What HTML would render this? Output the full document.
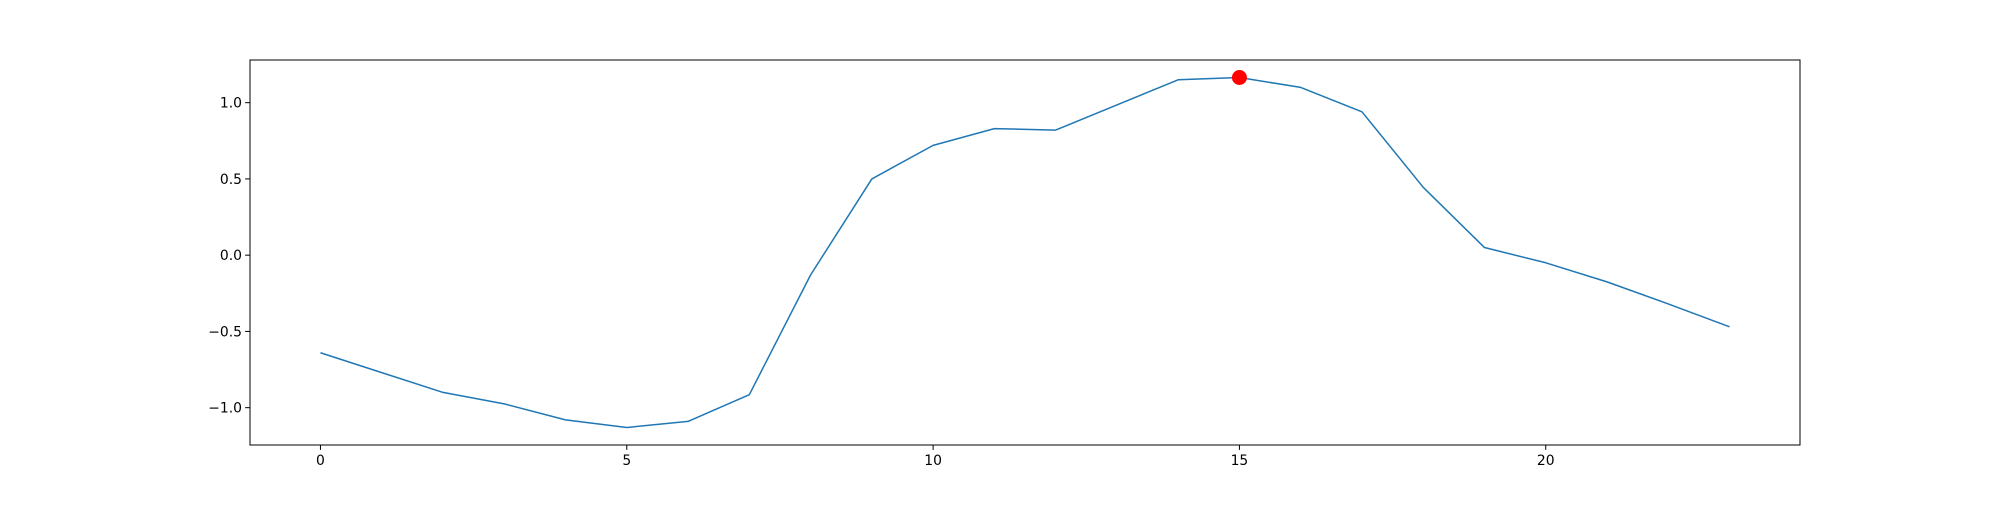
<!DOCTYPE html>
<html><head><meta charset="utf-8"><style>
html,body{margin:0;padding:0;background:#fff;}
svg text{font-family:"DejaVu Sans","Liberation Sans",sans-serif;font-size:13.9px;fill:#000;}
</style></head><body>
<svg id="chart" width="2000" height="500" xmlns="http://www.w3.org/2000/svg"></svg>
<script>
const xValues = [0,1,2,3,4,5,6,7,8,9,10,11,12,13,14,15,16,17,18,19,20,21,22,23];
const yValues = [-0.64,-0.77,-0.90,-0.975,-1.08,-1.13,-1.09,-0.915,-0.13,0.50,0.72,0.83,0.82,0.985,1.15,1.165,1.10,0.94,0.445,0.05,-0.05,-0.175,-0.32,-0.47];
const xTicks = [0,5,10,15,20];
const yTicks = [-1.0,-0.5,0.0,0.5,1.0];
const highlightIndex = 15;

const L=250,R=1800,T=60,B=445;
const xmin=Math.min(...xValues),xmax=Math.max(...xValues);
const ymin=Math.min(...yValues),ymax=Math.max(...yValues);
const xlo=xmin-(xmax-xmin)*0.05,xhi=xmax+(xmax-xmin)*0.05;
const ylo=ymin-(ymax-ymin)*0.05,yhi=ymax+(ymax-ymin)*0.05;
const sx=v=>L+(v-xlo)/(xhi-xlo)*(R-L);
const sy=v=>B-(v-ylo)/(yhi-ylo)*(B-T);
const NS="http://www.w3.org/2000/svg";
const svg=document.getElementById('chart');
function mk(tag,attrs){const e=document.createElementNS(NS,tag);for(const k in attrs)e.setAttribute(k,attrs[k]);svg.appendChild(e);return e;}

const pts=xValues.map((x,i)=>sx(x).toFixed(2)+','+sy(yValues[i]).toFixed(2)).join(' ');
const line=mk('polyline',{points:pts,fill:'none',stroke:'#1f77b4','stroke-width':1.5,'stroke-linejoin':'round'});



const dot=mk('circle',{cx:sx(xValues[highlightIndex]),cy:sy(yValues[highlightIndex]),r:7.5,fill:'red'});



const frame=mk('rect',{x:L,y:T,width:R-L,height:B-T,fill:'none',stroke:'#000','stroke-width':1});



xTicks.forEach(t=>{
  const x=sx(t);
  const tk=mk('line',{x1:x,x2:x,y1:B,y2:B+4.9,stroke:'#000','stroke-width':1});
  
  
  const tx=mk('text',{x:x,y:B+20,'text-anchor':'middle'});
  tx.textContent=t;
  
  
});
yTicks.forEach(t=>{
  const y=sy(t);
  const tk=mk('line',{x1:L-4.9,x2:L,y1:y,y2:y,stroke:'#000','stroke-width':1});
  
  
  const tx=mk('text',{x:L-8,y:y+5,'text-anchor':'end'});
  tx.textContent=(t<0?'\u2212':'')+Math.abs(t).toFixed(1);
  
  
});
</script>
</body></html>
